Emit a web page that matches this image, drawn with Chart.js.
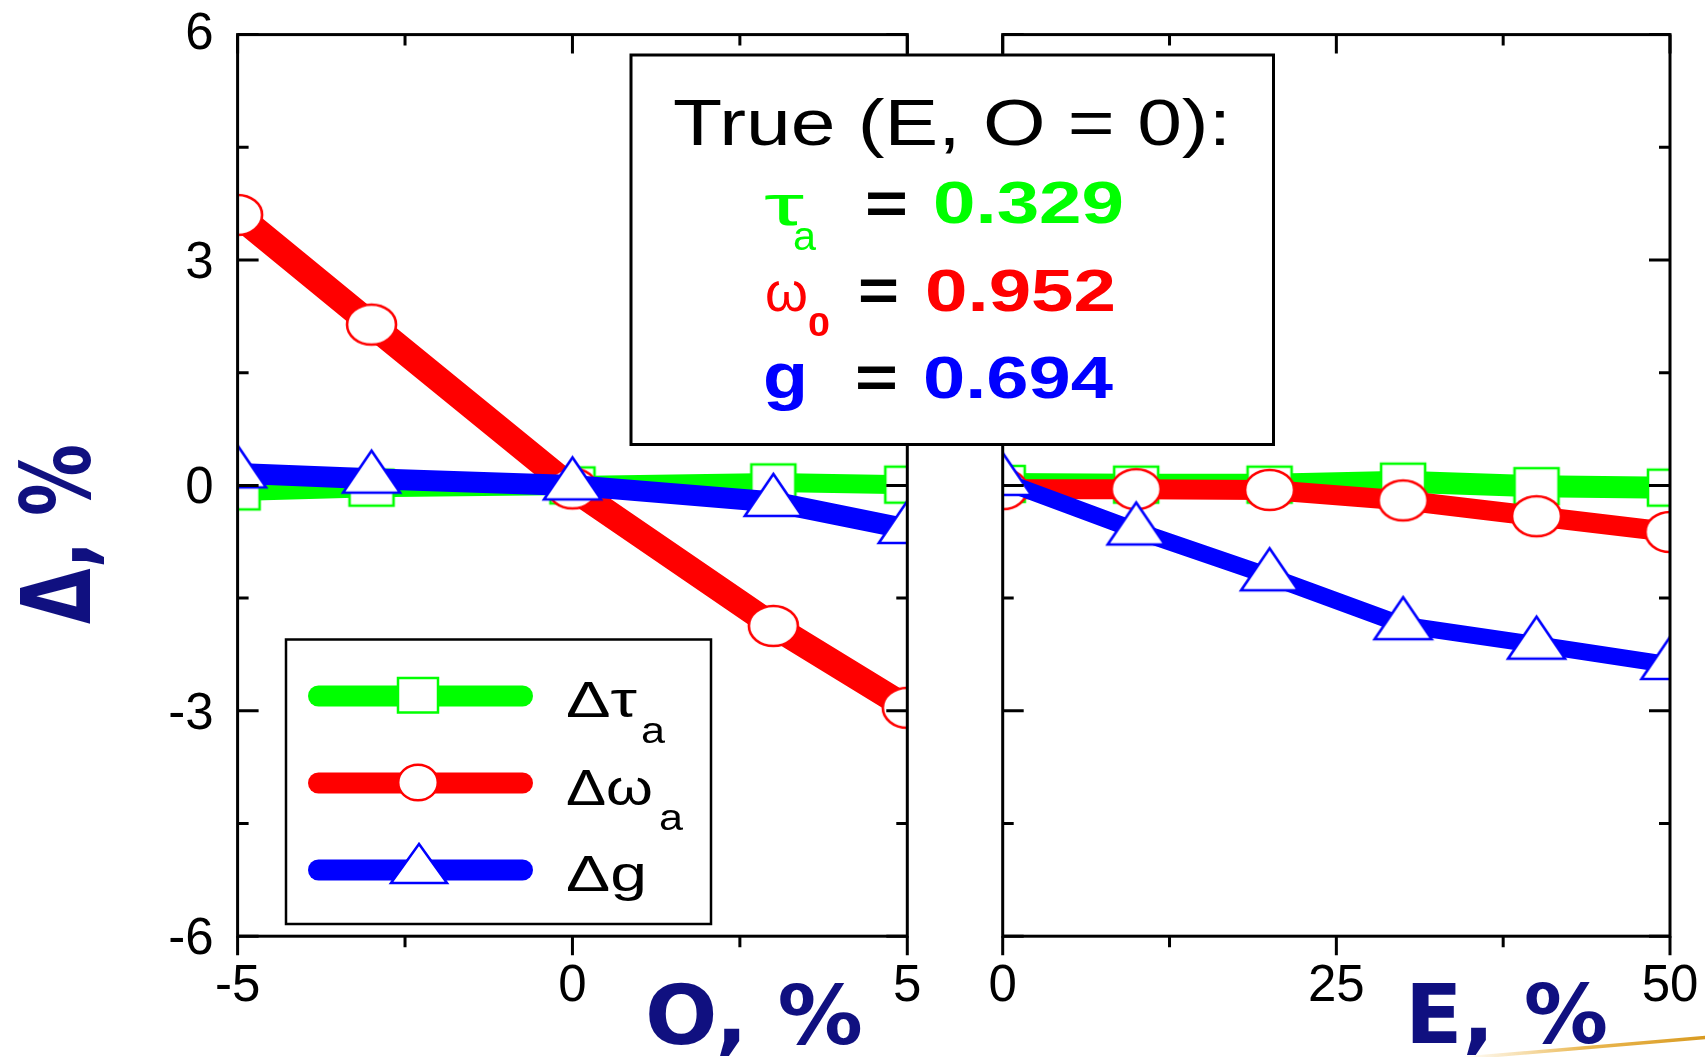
<!DOCTYPE html>
<html>
<head>
<meta charset="utf-8">
<script src="https://cdn.jsdelivr.net/npm/chart.js@4"></script>
<style>
  body { margin: 0; background: #fff; }
  #wrap { position: relative; width: 1705px; height: 1057px; overflow: hidden; background: #fff; }
  .panel { position: absolute; left: 0; top: 0; width: 1705px; height: 1057px; }
  svg { position: absolute; left: 0; top: 0; }
  .sans { font-family: "Liberation Sans", Arial, sans-serif; }
  .title { font-family: "DejaVu Sans", Verdana, sans-serif; font-weight: bold; fill: #101080; }
</style>
</head>
<body>
<div id="wrap">
  <div class="panel"><canvas id="chartO"></canvas></div>
  <div class="panel"><canvas id="chartE"></canvas></div>
  <svg width="1705" height="1057">
    <defs>
      <linearGradient id="gold" x1="1460" y1="0" x2="1705" y2="0" gradientUnits="userSpaceOnUse">
        <stop offset="0" stop-color="#f0c060" stop-opacity="0"/>
        <stop offset="0.5" stop-color="#e8b040" stop-opacity="0.9"/>
        <stop offset="1" stop-color="#d89a20"/>
      </linearGradient>
    </defs>

    <!-- info box -->
    <rect x="631" y="55" width="642.5" height="389.5" fill="#fff" stroke="#000" stroke-width="3"/>
    <text class="sans" x="673" y="145" font-size="65" textLength="558" lengthAdjust="spacingAndGlyphs">True (E, O = 0):</text>

    <text class="sans" x="764" y="225" font-size="58" fill="#00ff00" textLength="40" lengthAdjust="spacingAndGlyphs">τ</text>
    <text class="sans" x="793" y="250" font-size="40" fill="#00ff00" textLength="23" lengthAdjust="spacingAndGlyphs">a</text>
    <text class="sans" x="865" y="223" font-size="60" font-weight="bold" textLength="43" lengthAdjust="spacingAndGlyphs">=</text>
    <text class="sans" x="933" y="223" font-size="60" font-weight="bold" fill="#00ff00" textLength="191" lengthAdjust="spacingAndGlyphs">0.329</text>

    <text class="sans" x="765" y="311" font-size="56" fill="#ff0000" textLength="43" lengthAdjust="spacingAndGlyphs">ω</text>
    <text class="sans" x="808" y="336" font-size="34" font-weight="bold" fill="#ff0000" textLength="22" lengthAdjust="spacingAndGlyphs">0</text>
    <text class="sans" x="858" y="310" font-size="60" font-weight="bold" textLength="41" lengthAdjust="spacingAndGlyphs">=</text>
    <text class="sans" x="925" y="311" font-size="60" font-weight="bold" fill="#ff0000" textLength="191" lengthAdjust="spacingAndGlyphs">0.952</text>

    <text class="sans" x="763" y="398" font-size="64" font-weight="bold" fill="#0000ff" textLength="45" lengthAdjust="spacingAndGlyphs">g</text>
    <text class="sans" x="855" y="397" font-size="60" font-weight="bold" textLength="43" lengthAdjust="spacingAndGlyphs">=</text>
    <text class="sans" x="923" y="398" font-size="60" font-weight="bold" fill="#0000ff" textLength="190" lengthAdjust="spacingAndGlyphs">0.694</text>

    <!-- legend -->
    <rect x="286" y="639.5" width="425" height="284.5" fill="#fff" stroke="#000" stroke-width="2.5"/>
    <line x1="318.5" y1="696" x2="522.5" y2="696" stroke="#00ff00" stroke-width="21" stroke-linecap="round"/>
    <rect x="398" y="678" width="40" height="34.5" fill="#fff" stroke="#00ff00" stroke-width="2.5"/>
    <line x1="318.5" y1="783" x2="522.5" y2="783" stroke="#ff0000" stroke-width="21" stroke-linecap="round"/>
    <ellipse cx="418" cy="782.5" rx="19.8" ry="17.8" fill="#fff" stroke="#ff0000" stroke-width="2.5"/>
    <line x1="318.5" y1="870" x2="522.5" y2="870" stroke="#0000ff" stroke-width="21" stroke-linecap="round"/>
    <polygon points="419,844 391,883 447,883" fill="#fff" stroke="#0000ff" stroke-width="2.5"/>
    <text class="sans" x="566" y="717" font-size="50" textLength="71" lengthAdjust="spacingAndGlyphs">Δτ</text>
    <text class="sans" x="641" y="743" font-size="37" textLength="24" lengthAdjust="spacingAndGlyphs">a</text>
    <text class="sans" x="566" y="805" font-size="50" textLength="87" lengthAdjust="spacingAndGlyphs">Δω</text>
    <text class="sans" x="659" y="830" font-size="37" textLength="24" lengthAdjust="spacingAndGlyphs">a</text>
    <text class="sans" x="566" y="891" font-size="50" textLength="81" lengthAdjust="spacingAndGlyphs">Δg</text>

    <!-- axis titles -->
    <text class="title" x="645" y="1044" font-size="82" textLength="218" lengthAdjust="spacingAndGlyphs">O, %</text>
    <text class="title" x="1405" y="1043" font-size="82" textLength="203" lengthAdjust="spacingAndGlyphs">E, %</text>
    <text class="title" font-size="72" transform="translate(90,624) rotate(-90) scale(1,1.33)">Δ, %</text>

    <!-- decoration -->
    <path d="M1465,1058 Q1590,1047 1710,1037" fill="none" stroke="url(#gold)" stroke-width="3.5"/>
  </svg>
</div>

<script>
// left panel: O, %
const oValues = [-5, -3, 0, 3, 5];
const tauO = [-0.08, -0.03, 0, 0.04, 0.01];
const omegaO = [3.6, 2.14, -0.04, -1.87, -2.96];
const gO = [0.16, 0.09, 0, -0.22, -0.58];

// right panel: E, %
const eValues = [0, 10, 20, 30, 40, 50];
const tauE = [0.02, 0.01, 0.01, 0.05, -0.01, -0.03];
const omegaE = [-0.05, -0.05, -0.06, -0.2, -0.41, -0.62];
const gE = [0.06, -0.6, -1.21, -1.86, -2.12, -2.39];

// ticks
const yTicks = [-6, -3, 0, 3, 6];
const yMinor = [-4.5, -1.5, 1.5, 4.5];
const oTicks = [-5, 0, 5];
const oMinor = [-2.5, 2.5];
const eTicks = [0, 25, 50];
const eMinor = [12.5, 37.5];

const GREEN = "#00ff00", RED = "#ff0000", BLUE = "#0000ff";

function marker(kind, w, h, color) {
    const pad = 3;
    const c = document.createElement("canvas");
    const ctx = c.getContext("2d");
    if (kind === "tri") {
        // centroid sits at the image centre
        c.width = w + pad * 2;
        c.height = Math.round(h * 4 / 3 + pad * 2);
        const cy = c.height / 2;
        ctx.beginPath();
        ctx.moveTo(c.width / 2, cy - h * 2 / 3);
        ctx.lineTo(c.width / 2 + w / 2, cy + h / 3);
        ctx.lineTo(c.width / 2 - w / 2, cy + h / 3);
        ctx.closePath();
    } else {
        c.width = w + pad * 2;
        c.height = h + pad * 2;
        ctx.beginPath();
        if (kind === "circle") ctx.ellipse(c.width / 2, c.height / 2, w / 2, h / 2, 0, 0, Math.PI * 2);
        else ctx.rect(pad, pad, w, h);
    }
    ctx.fillStyle = "#fff";
    ctx.fill();
    ctx.lineWidth = 2.6;
    ctx.strokeStyle = color;
    ctx.stroke();
    return c;
}

const sq = marker("rect", 44, 36, GREEN);
const circ = marker("circle", 49, 40, RED);
const tri = marker("tri", 57, 42, BLUE);

function pts(xs, ys) {
    return xs.map((x, i) => ({ x: x, y: ys[i] }));
}

function series(data, color, img, width, order) {
    return {
        data: data,
        borderColor: color,
        borderWidth: width,
        pointStyle: img,
        pointRadius: 20,
        fill: false,
        tension: 0,
        clip: 0,
        order: order
    };
}

const frame = {
    id: "frame",
    afterDatasetsDraw(chart, args, o) {
        const { ctx, chartArea: a, scales: { x, y } } = chart;
        ctx.save();
        ctx.strokeStyle = "#000";
        ctx.lineWidth = 3;
        ctx.strokeRect(a.left, a.top, a.right - a.left, a.bottom - a.top);

        ctx.beginPath();
        const xt = (v, len) => {
            const px = x.getPixelForValue(v);
            ctx.moveTo(px, a.bottom); ctx.lineTo(px, a.bottom + len);
            ctx.moveTo(px, a.top); ctx.lineTo(px, a.top + len);
        };
        const yt = (v, len) => {
            const py = y.getPixelForValue(v);
            ctx.moveTo(a.left, py); ctx.lineTo(a.left + len, py);
            ctx.moveTo(a.right, py); ctx.lineTo(a.right - len, py);
        };
        o.xMajor.forEach(v => xt(v, 19));
        o.xMinor.forEach(v => xt(v, 11));
        yTicks.forEach(v => yt(v, 21));
        yMinor.forEach(v => yt(v, 11));
        ctx.stroke();

        ctx.fillStyle = "#000";
        ctx.font = '51px "Liberation Sans", Arial, sans-serif';
        ctx.textAlign = "center";
        ctx.textBaseline = "alphabetic";
        o.xMajor.forEach(v => ctx.fillText(String(v), x.getPixelForValue(v), a.bottom + 65));
        if (o.yLabels) {
            ctx.textAlign = "right";
            yTicks.forEach(v => {
                const py = y.getPixelForValue(v) + 18 - (v === 6 ? 4 : 0);
                ctx.fillText(String(v), a.left - 24, py);
            });
        }
        ctx.restore();
    }
};

function makeChart(id, xs, tau, omega, g, xmin, xmax, area, ticks, minor, yLabels, widths) {
    return new Chart(document.getElementById(id), {
        type: "line",
        data: {
            datasets: [
                series(pts(xs, g), BLUE, tri, widths[2], 0),
                series(pts(xs, omega), RED, circ, widths[1], 1),
                series(pts(xs, tau), GREEN, sq, widths[0], 2)
            ]
        },
        options: {
            responsive: true,
            maintainAspectRatio: false,
            animation: false,
            events: [],
            layout: {
                autoPadding: false,
                padding: { left: area.left, right: 1705 - area.right, top: area.top, bottom: 1057 - area.bottom }
            },
            scales: {
                x: { type: "linear", min: xmin, max: xmax, display: false },
                y: { type: "linear", min: -6, max: 6, display: false }
            },
            plugins: {
                legend: { display: false },
                tooltip: { enabled: false },
                frame: { xMajor: ticks, xMinor: minor, yLabels: yLabels }
            }
        },
        plugins: [frame]
    });
}

makeChart("chartO", oValues, tauO, omegaO, gO, -5, 5,
    { left: 237.6, right: 907.3, top: 34.6, bottom: 936.2 },
    oTicks, oMinor, true, [19, 26, 21]);

makeChart("chartE", eValues, tauE, omegaE, gE, 0, 50,
    { left: 1002.7, right: 1670, top: 34.6, bottom: 936.2 },
    eTicks, eMinor, false, [22, 20, 17]);
</script>
</body>
</html>
